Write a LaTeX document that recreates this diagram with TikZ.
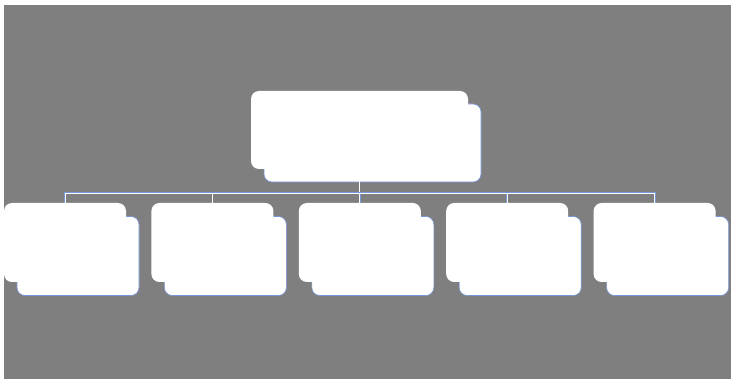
\documentclass[tikz,border=0pt]{standalone}
\usepackage{tikz}
\usetikzlibrary{positioning,backgrounds}
\definecolor{fondogris}{RGB}{127,127,127}
\definecolor{bordeazul}{RGB}{120,150,220}
\tikzset{
  caja/.style={rectangle,rounded corners=8pt,fill=white,draw=none,
    minimum width=122pt,minimum height=79pt,inner sep=0pt},
  cajasup/.style={caja,minimum width=217pt,minimum height=78pt},
  sombra/.style={draw=bordeazul,line width=0.6pt},
  conector/.style={draw=bordeazul,double=white,double distance=0.9pt,line width=0.45pt},
}

\begin{document}
\begin{tikzpicture}[x=1pt,y=1pt,node distance=25pt]
    \useasboundingbox (0,0) rectangle (731,-379);
    \node[cajasup] (jefe) at (359.5,-130) {};
    \node[caja] (b1) at (65,-242.5) {};
    \node[caja,right=of b1] (b2) {};
    \node[caja,right=of b2] (b3) {};
    \node[caja,right=of b3] (b4) {};
    \node[caja,right=of b4] (b5) {};
    \begin{scope}[on background layer]
      \fill[white] (0,0) rectangle (731,-379);
      \fill[fondogris] (4,-5) rectangle (731,-379);
      \node[cajasup,sombra] (jefes) at ([shift={(13,-13)}]jefe) {};
      \foreach \i in {1,...,5}
        \node[caja,sombra] (b\i s) at ([shift={(13,-13.5)}]b\i) {};
      \draw[conector] (jefe.south) -- ++(0,-24) coordinate (bus);
      \foreach \i in {1,...,5}
        \draw[conector] (bus) -| (b\i.north);
    \end{scope}
  \end{tikzpicture}
\end{document}
